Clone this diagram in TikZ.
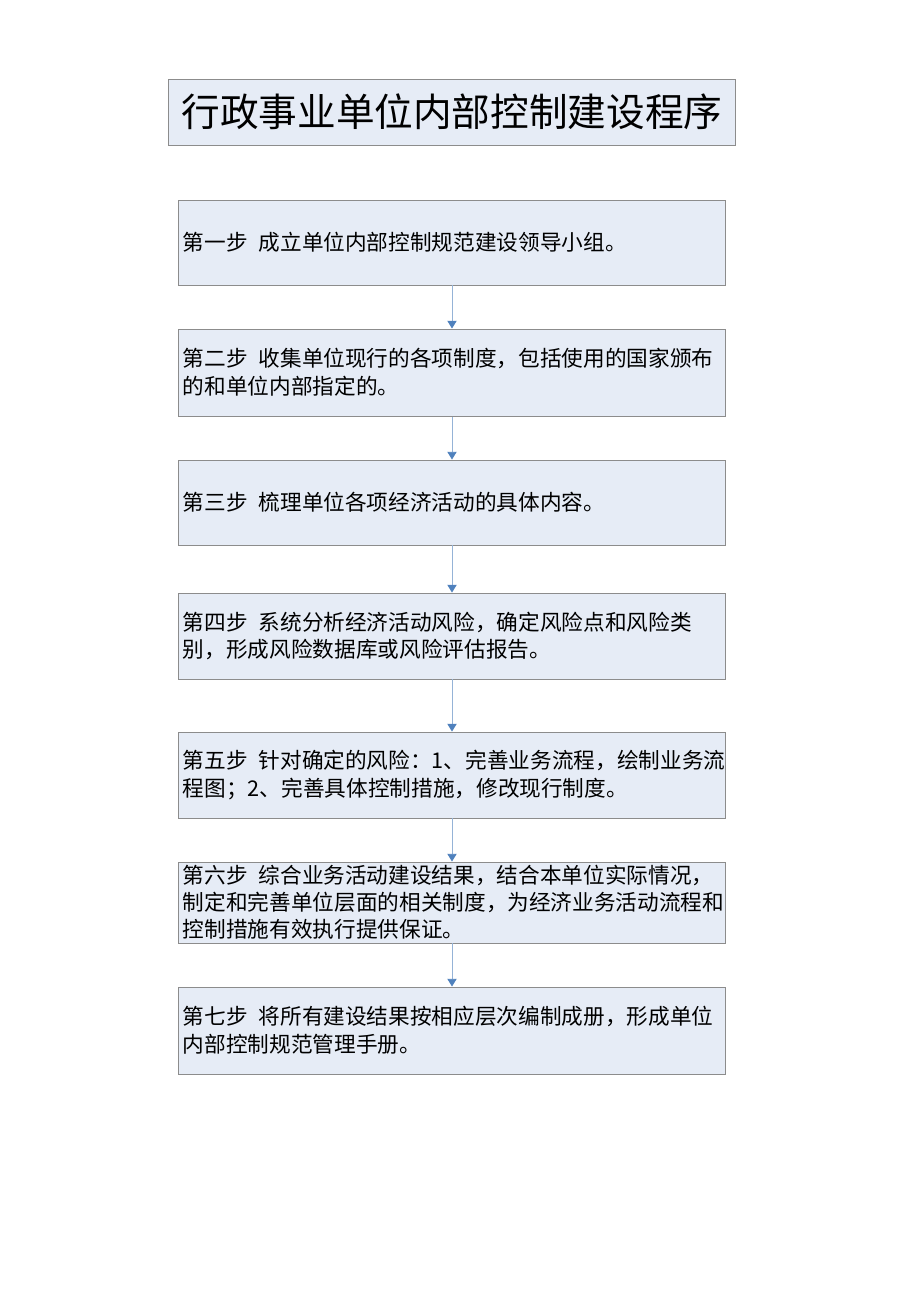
\documentclass[tikz,border=0pt]{standalone}
\usepackage{fontspec}
\setmainfont{Noto Sans CJK SC}
\usetikzlibrary{arrows.meta}
\definecolor{boxfill}{RGB}{230,236,246}
\definecolor{boxline}{RGB}{140,140,140}
\definecolor{linkblue}{RGB}{149,179,215}
\definecolor{headblue}{RGB}{79,129,189}
\newcommand{\stepgap}{\hspace{0.5em}}

\begin{document}
\begin{tikzpicture}[x=0.6467pt, y=-0.6467pt,
    titlebox/.style={draw=boxline, fill=boxfill, line width=0.6pt, text width=361pt, align=center, inner xsep=2.6pt, minimum height=42.7pt, font=\fontsize{25pt}{30pt}\selectfont},
    stepbox/.style={draw=boxline, fill=boxfill, line width=0.6pt, text width=348pt, inner xsep=2.6pt, align=left, font=\fontsize{14pt}{18pt}\selectfont},
    flowarrow/.style={draw=linkblue, line width=0.6pt, -{Triangle[width=6pt, length=5pt, color=headblue]}}]
    \useasboundingbox (0, 0) rectangle (920, 1302);

    \node[titlebox] (title) at (452, 112) {行政事业单位内部控制建设程序};

    \node[stepbox, minimum height=55pt] (step1) at (452, 242.5) {第一步\stepgap 成立单位内部控制规范建设领导小组。};
    \node[stepbox, minimum height=56.3pt] (step2) at (452, 372.5) {第二步\stepgap 收集单位现行的各项制度，包括使用的国家颁布\\的和单位内部指定的。};
    \node[stepbox, minimum height=55pt] (step3) at (452, 502.5) {第三步\stepgap 梳理单位各项经济活动的具体内容。};
    \node[stepbox, minimum height=55.6pt] (step4) at (452, 636) {第四步\stepgap 系统分析经济活动风险，确定风险点和风险类\\别，形成风险数据库或风险评估报告。};
    \node[stepbox, minimum height=55.6pt] (step5) at (452, 775) {第五步\stepgap 针对确定的风险：1、完善业务流程，绘制业务流\\程图；2、完善具体控制措施，修改现行制度。};
    \node[stepbox, minimum height=52.4pt, inner ysep=0.8pt, font=\fontsize{14pt}{17.5pt}\selectfont] (step6) at (452, 902.5) {第六步\stepgap 综合业务活动建设结果，结合本单位实际情况，\\制定和完善单位层面的相关制度，为经济业务活动流程和\\控制措施有效执行提供保证。};
    \node[stepbox, minimum height=56.3pt] (step7) at (452, 1030.5) {第七步\stepgap 将所有建设结果按相应层次编制成册，形成单位\\内部控制规范管理手册。};

    % links between the steps
    \draw[flowarrow] (step1.south) -- (step2.north);
    \draw[flowarrow] (step2.south) -- (step3.north);
    \draw[flowarrow] (step3.south) -- (step4.north);
    \draw[flowarrow] (step4.south) -- (step5.north);
    \draw[flowarrow] (step5.south) -- (step6.north);
    \draw[flowarrow] (step6.south) -- (step7.north);
\end{tikzpicture}
\end{document}
